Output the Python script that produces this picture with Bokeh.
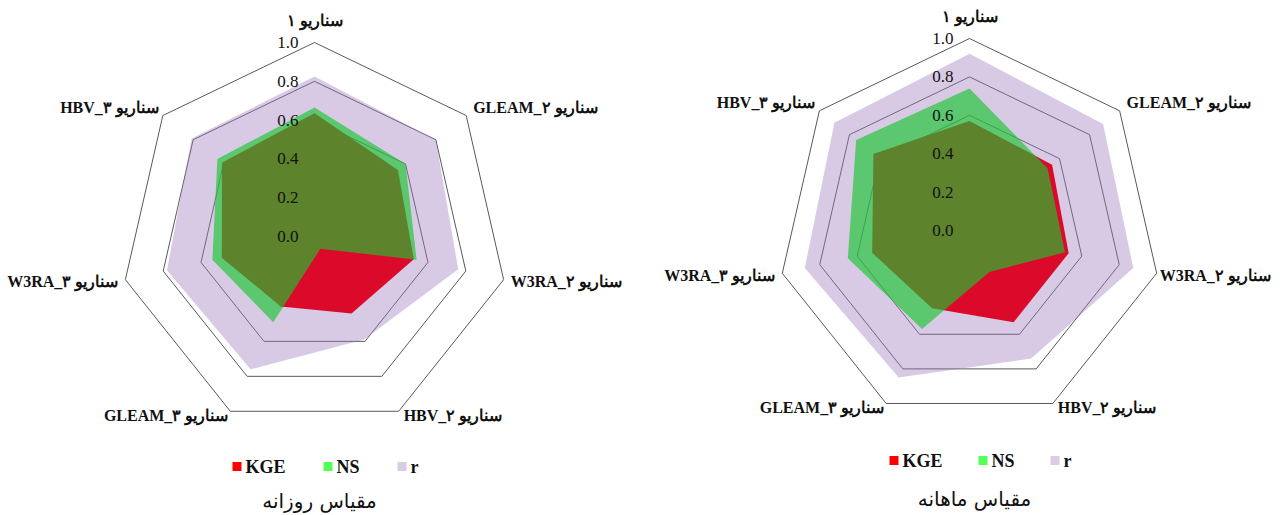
import numpy as np
from bokeh.plotting import figure
from bokeh.models import Range1d
from bokeh.core.properties import value
from bokeh.embed import file_html
from bokeh.resources import INLINE

# ---------------- data ----------------
categories = ["سناریو ۱", "GLEAM_سناریو ۲", "W3RA_سناریو ۲", "HBV_سناریو ۲",
              "GLEAM_سناریو ۳", "W3RA_سناریو ۳", "HBV_سناریو ۳"]
series_names = ["KGE", "NS", "r"]
ticks = [0.0, 0.2, 0.4, 0.6, 0.8, 1.0]
tick_labels = ["0.0", "0.2", "0.4", "0.6", "0.8", "1.0"]

daily_kge = [0.635, 0.55, 0.525, 0.44, 0.40, 0.49, 0.61]
daily_ns = [0.665, 0.60, 0.54, 0.07, 0.49, 0.54, 0.64]
daily_r = [0.825, 0.80, 0.76, 0.59, 0.76, 0.78, 0.81]

monthly_kge = [0.57, 0.55, 0.53, 0.53, 0.45, 0.52, 0.64]
monthly_ns = [0.74, 0.52, 0.51, 0.24, 0.57, 0.65, 0.755]
monthly_r = [0.92, 0.89, 0.875, 0.74, 0.85, 0.88, 0.90]

titles = ["مقیاس روزانه", "مقیاس ماهانه"]

# ---------------- layout ----------------
W, H = 1280, 515
p = figure(width=W, height=H, x_range=Range1d(0, W), y_range=Range1d(H, 0),
           output_backend="svg", toolbar_location=None, min_border=0,
           x_axis_location=None, y_axis_location=None)
p.grid.visible = False
p.outline_line_color = None

SERIF = value("Liberation Serif")
n = len(categories)
ang = np.arange(n) * 2 * np.pi / n
sx, sy = np.sin(ang), -np.cos(ang)

charts = [
    dict(cx=314, cy=236, R=194, data=[daily_r, daily_kge, daily_ns], title=titles[0],
         leg_y=466, leg_x=[236.5, 327.5, 401.5], title_y=500, k2dx=7),
    dict(cx=969, cy=230, R=192, data=[monthly_r, monthly_kge, monthly_ns], title=titles[1],
         leg_y=460, leg_x=[893.5, 982.5, 1054.5], title_y=498, k2dx=3),
]

fills = [((157, 122, 187), 0.4), ("#DC0A2A", 1.0), ((25, 196, 46), 0.65)]
legend_colors = ["#FF0000", "#55FF55", "#D9CCE6"]

for c in charts:
    cx, cy, R = c["cx"], c["cy"], c["R"]

    def pts(vals):
        v = np.asarray(vals, dtype=float)
        return list(cx + v * R * sx), list(cy + v * R * sy)

    # grid rings
    for t in ticks[1:]:
        xs, ys = pts([t] * n)
        p.line(xs + [xs[0]], ys + [ys[0]], line_color="#595959", line_width=1)

    # series areas: r, KGE, NS
    for vals, (col, a) in zip(c["data"], fills):
        xs, ys = pts(vals)
        p.patch(xs, ys, fill_color=col, fill_alpha=a, line_color=None)

    # value tick labels
    p.text(x=[cx - 16] * len(ticks), y=[cy - t * R for t in ticks], text=tick_labels,
           text_font=SERIF, text_font_size="17px", text_align="right",
           text_baseline="middle", text_color="#111111")

    # category labels
    ox, oy = pts([1.0] * n)
    offs = [(0, -22, "center"), (7, -8, "left"), (c["k2dx"], 2, "left"), (5, 4, "left"),
            (-2, 4, "right"), (-7, 2, "right"), (-4, -8, "right")]
    for k in range(n):
        dx, dy, al = offs[k]
        p.text(x=[ox[k] + dx], y=[oy[k] + dy], text=[categories[k]],
               text_font=SERIF, text_font_style="bold", text_font_size="16px",
               text_align=al, text_baseline="middle", text_color="#111111")

    # legend
    for lx, name, col in zip(c["leg_x"], series_names, legend_colors):
        p.scatter(x=[lx], y=[c["leg_y"]], marker="square", size=9,
                  fill_color=col, line_color=None)
        p.text(x=[lx + 8.5], y=[c["leg_y"]], text=[name], text_font=SERIF,
               text_font_style="bold", text_font_size="18px", text_align="left",
               text_baseline="middle", text_color="#111111")

    # title
    p.text(x=[cx + 5], y=[c["title_y"]], text=[c["title"]], text_font=value("DejaVu Sans"),
           text_font_size="20px", text_align="center", text_baseline="middle",
           text_color="#111111")

open("out.html", "w").write(file_html(p, INLINE))
